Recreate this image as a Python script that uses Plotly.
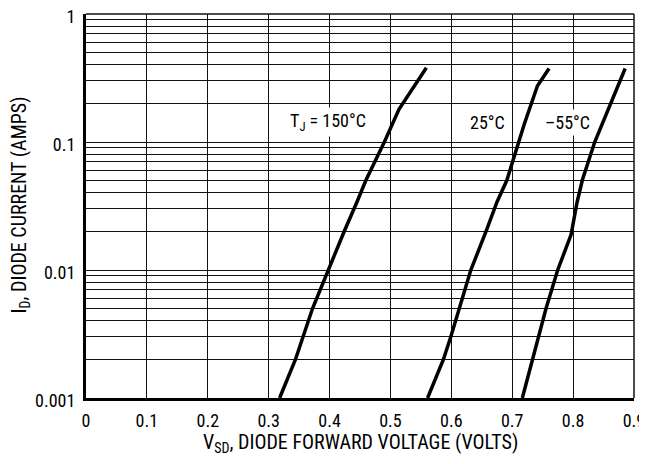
import math
import plotly.graph_objects as go

# Data
v_150 = [0.318, 0.344, 0.372, 0.3975, 0.424, 0.445, 0.4595, 0.49, 0.514, 0.559]
i_150 = [0.001, 0.002, 0.005, 0.01, 0.02, 0.034, 0.05, 0.1, 0.18, 0.38]

v_25 = [0.561, 0.587, 0.599, 0.613, 0.632, 0.657, 0.675, 0.691, 0.72, 0.7415, 0.7605]
i_25 = [0.001, 0.002, 0.003, 0.005, 0.01, 0.02, 0.034, 0.05, 0.139, 0.275, 0.375]

v_m55 = [0.7166, 0.7336, 0.7555, 0.7747, 0.7967, 0.8066, 0.8153, 0.8355, 0.8855]
i_m55 = [0.001, 0.002, 0.005, 0.01, 0.0189, 0.034, 0.0507, 0.1, 0.375]

x_ticks = [0, 0.1, 0.2, 0.3, 0.4, 0.5, 0.6, 0.7, 0.8, 0.9]
x_ticklabels = ["0", "0.1", "0.2", "0.3", "0.4", "0.5", "0.6", "0.7", "0.8", "0.9"]
y_decades = [0.001, 0.01, 0.1, 1]
y_decade_labels = ["0.001", "0.01", "0.1", "1"]

labels = ["T<sub>J</sub> = 150°C", "25°C", "–55°C"]
label_x = [0.397, 0.66, 0.79]
label_y = [0.143, 0.143, 0.143]

x_title = "V<sub>SD</sub>, DIODE FORWARD VOLTAGE (VOLTS)"
y_title = "I<sub>D</sub>, DIODE CURRENT (AMPS)"

# Build y tick list (all grid lines 1..9 per decade)
y_tickvals, y_ticktext = [], []
for d, lab in zip(y_decades[:-1], y_decade_labels[:-1]):
    for k in range(1, 10):
        y_tickvals.append(round(d * k, 6))
        y_ticktext.append(lab if k == 1 else "")
y_tickvals.append(y_decades[-1])
y_ticktext.append(y_decade_labels[-1])

FONT = "Roboto Condensed, DejaVu Sans Condensed, Liberation Sans Narrow, Arial Narrow, sans-serif"

fig = go.Figure()
for v, i in [(v_150, i_150), (v_25, i_25), (v_m55, i_m55)]:
    fig.add_trace(go.Scatter(x=v, y=i, mode="lines",
                             line=dict(color="black", width=3.5),
                             showlegend=False, hoverinfo="skip"))

for t, x, y in zip(labels, label_x, label_y):
    fig.add_annotation(x=x, y=math.log10(y), yref="y", xref="x", text=t, showarrow=False,
                       bgcolor="white", font=dict(family=FONT, size=18, color="black"),
                       borderpad=2)

fig.add_annotation(x=0.5, y=-0.117, xref="paper", yref="paper", text=x_title,
                   showarrow=False, xanchor="center", yanchor="middle",
                   font=dict(family=FONT, size=20, color="black"))
fig.add_annotation(x=-0.121, y=0.503, xref="paper", yref="paper", text=y_title,
                   showarrow=False, xanchor="center", yanchor="middle", textangle=-90,
                   font=dict(family=FONT, size=20, color="black"))

fig.update_layout(
    width=639, height=448,
    margin=dict(l=78, r=13, t=6, b=58),
    paper_bgcolor="white", plot_bgcolor="white",
    font=dict(family=FONT, size=18, color="black"),
)
fig.update_xaxes(range=[0, 0.9], tickvals=x_ticks, ticktext=x_ticklabels,
                 showgrid=True, gridcolor="#111", gridwidth=1,
                 showline=True, linecolor="black", linewidth=3,
                 ticks="", zeroline=False, automargin=False,
                 ticklabelstandoff=4, ticklabeloverflow="allow",
                 tickfont=dict(family=FONT, size=18))
fig.update_yaxes(type="log", range=[-3, 0], tickvals=y_tickvals, ticktext=y_ticktext,
                 showgrid=True, gridcolor="#111", gridwidth=1,
                 showline=True, linecolor="black", linewidth=3,
                 ticks="", zeroline=False, automargin=False,
                 ticklabelstandoff=4, ticklabelshift=3, ticklabeloverflow="allow",
                 tickfont=dict(family=FONT, size=18))

# right and top border lines
fig.add_shape(type="line", xref="paper", yref="paper", x0=1, x1=1, y0=0, y1=1,
              line=dict(color="#111", width=1.5))
fig.add_shape(type="line", xref="paper", yref="paper", x0=0, x1=1, y0=1, y1=1,
              line=dict(color="#111", width=1.5))

fig.write_html("out.html")
